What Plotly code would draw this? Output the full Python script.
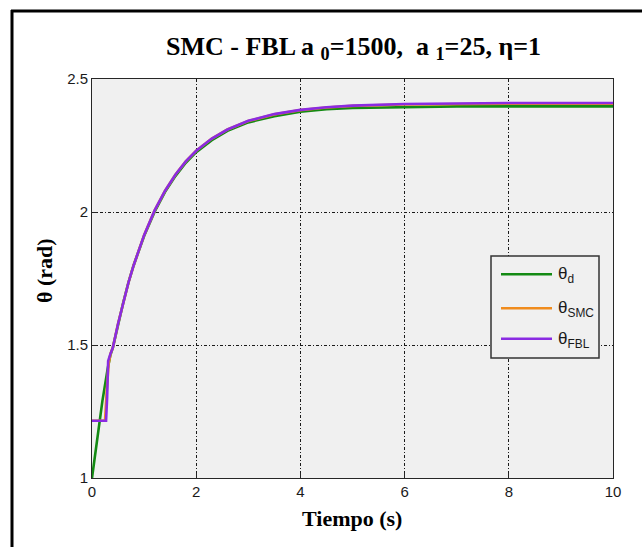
import plotly.graph_objects as go

# ---- data ----
t_d = [0, 0.1, 0.2, 0.3, 0.35, 0.4, 0.5, 0.6, 0.7, 0.8, 1.0, 1.2, 1.4, 1.6, 1.8,
       2.0, 2.3, 2.6, 3.0, 3.5, 4.0, 4.5, 5.0, 6.0, 7.0, 8.0, 9.0, 10.0]
theta_d = [1.00, 1.15, 1.29, 1.41, 1.46, 1.49, 1.58, 1.66, 1.735, 1.80, 1.91, 2.00, 2.075,
           2.135, 2.185, 2.225, 2.27, 2.305, 2.337, 2.36, 2.377, 2.386, 2.391, 2.395,
           2.397, 2.397, 2.397, 2.397]

t_smc = [0, 0.25, 0.28, 0.32, 0.36, 0.4, 0.5, 0.6, 0.7, 0.8, 1.0, 1.2, 1.4, 1.6, 1.8,
         2.0, 2.3, 2.6, 3.0, 3.5, 4.0, 4.5, 5.0, 6.0, 7.0, 8.0, 9.0, 10.0]
theta_smc = [1.215, 1.215, 1.32, 1.43, 1.47, 1.49, 1.58, 1.66, 1.735, 1.80, 1.913, 2.005,
             2.079, 2.14, 2.19, 2.23, 2.276, 2.31, 2.342, 2.367, 2.383, 2.393, 2.399,
             2.404, 2.406, 2.407, 2.407, 2.407]

t_fbl = [0, 0.27, 0.29, 0.31, 0.35, 0.4, 0.5, 0.6, 0.7, 0.8, 1.0, 1.2, 1.4, 1.6, 1.8,
         2.0, 2.3, 2.6, 3.0, 3.5, 4.0, 4.5, 5.0, 6.0, 7.0, 8.0, 9.0, 10.0]
theta_fbl = [1.215, 1.215, 1.30, 1.44, 1.465, 1.49, 1.58, 1.66, 1.735, 1.80, 1.913, 2.005,
             2.079, 2.14, 2.19, 2.23, 2.276, 2.31, 2.343, 2.368, 2.384, 2.394, 2.40,
             2.406, 2.409, 2.41, 2.41, 2.41]

series_names = ["θ<sub>d</sub>", "θ<sub>SMC</sub>", "θ<sub>FBL</sub>"]
series_colors = ["#138a13", "#f08c1e", "#8a2be2"]

x_ticks = [0, 2, 4, 6, 8, 10]
y_ticks = [1, 1.5, 2, 2.5]
y_ticktext = ["1", "1.5", "2", "2.5"]

# ---- layout geometry (window pixels; body margin removed via post_script) ----
W, H = 642, 547
PL, PR, PT, PB = 92, 613, 79, 478          # plot area in window pixels
L, T = PL, PT
R, B = W - PR, H - PB
pw, ph = PR - PL, PB - PT


def px(x):
    return (x - PL) / pw


def py(y):
    return (PB - y) / ph


fig = go.Figure()
for tx, ty, name, col in zip([t_d, t_smc, t_fbl], [theta_d, theta_smc, theta_fbl],
                             series_names, series_colors):
    fig.add_trace(go.Scatter(x=tx, y=ty, mode="lines", name=name,
                             line=dict(color=col, width=2.6), showlegend=False))

axis_common = dict(showline=True, linecolor="#262626", linewidth=1, mirror=True,
                   ticks="inside", ticklen=5, tickcolor="#262626",
                   showgrid=True, gridcolor="#1a1a1a", gridwidth=1, griddash="3px,2px,1px,2px",
                   zeroline=False,
                   tickfont=dict(family="Liberation Sans, Arial", size=15, color="#1a1a1a"))

fig.update_xaxes(range=[0, 10], tickvals=x_ticks, **axis_common)
fig.update_yaxes(range=[1, 2.5], tickvals=y_ticks, ticktext=y_ticktext, **axis_common)

shapes = [
    # figure frame (top and left edges)
    dict(type="line", xref="paper", yref="paper", x0=px(11), x1=px(650), y0=py(11), y1=py(11),
         line=dict(color="black", width=3)),
    dict(type="line", xref="paper", yref="paper", x0=px(12), x1=px(12), y0=py(10), y1=py(560),
         line=dict(color="black", width=3)),
    # legend box
    dict(type="rect", xref="paper", yref="paper", x0=px(491), x1=px(599), y0=py(358), y1=py(256),
         fillcolor="#f0f0f0", line=dict(color="#333333", width=1.5), layer="above"),
]
annotations = []
leg_y = [274.3, 308.3, 338.7]
for name, col, yy in zip(series_names, series_colors, leg_y):
    shapes.append(dict(type="line", xref="paper", yref="paper", x0=px(501), x1=px(552),
                       y0=py(yy), y1=py(yy), line=dict(color=col, width=2.6), layer="above"))
    annotations.append(dict(text=name, xref="paper", yref="paper", x=px(556), y=py(yy + 1),
                            xanchor="left", yanchor="middle", showarrow=False,
                            font=dict(family="Liberation Sans, Arial", size=17, color="#1a1a1a")))

annotations += [
    dict(text="<b>SMC - FBL a <sub>0</sub>=1500,  a <sub>1</sub>=25, η=1</b>", xref="paper",
         yref="paper", x=px(353), y=py(48), xanchor="center", yanchor="middle", showarrow=False,
         font=dict(family="Liberation Serif, Times New Roman", size=26, color="black")),
    dict(text="<b>Tiempo (s)</b>", xref="paper", yref="paper", x=px(352), y=py(518),
         xanchor="center", yanchor="middle", showarrow=False,
         font=dict(family="Liberation Serif, Times New Roman", size=22, color="black")),
    dict(text="<b>θ (rad)</b>", xref="paper", yref="paper", x=px(44), y=py(271),
         xanchor="center", yanchor="middle", showarrow=False, textangle=-90,
         font=dict(family="Liberation Serif, Times New Roman", size=22, color="black")),
]

fig.update_layout(width=W, height=H, margin=dict(l=L, r=R, t=T, b=B),
                  paper_bgcolor="white", plot_bgcolor="#f0f0f0",
                  shapes=shapes, annotations=annotations, showlegend=False)

fig.write_html("out.html", config={"displayModeBar": False},
               post_script="document.body.style.margin='0';document.body.style.overflow='hidden';")
